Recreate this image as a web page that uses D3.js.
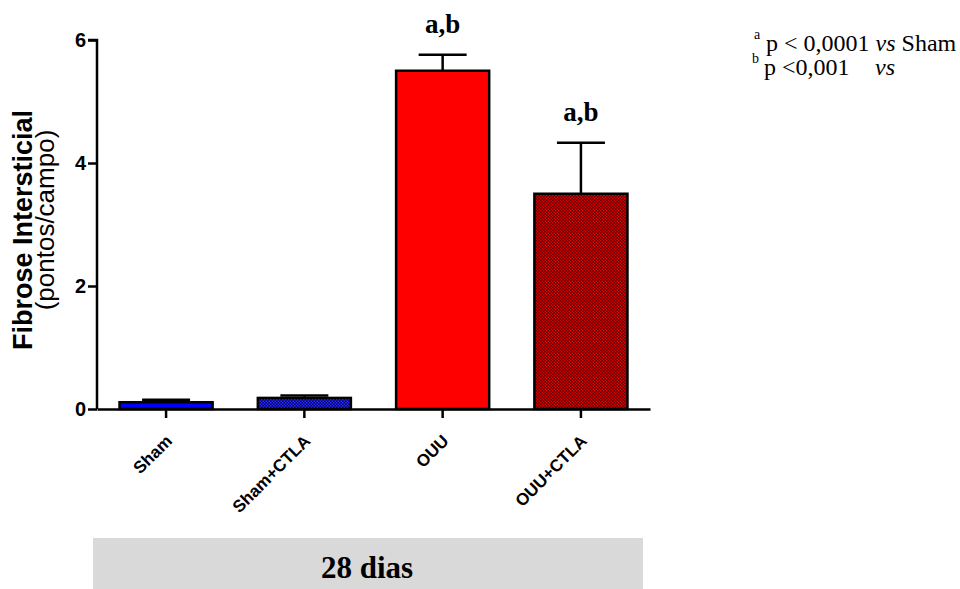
<!DOCTYPE html>
<html>
<head>
<meta charset="utf-8">
<script src="https://cdn.jsdelivr.net/npm/d3@7"></script>
<style>
  body { margin: 0; background: #fff; }
  svg { display: block; }
</style>
</head>
<body>
<svg id="chart" width="960" height="589"></svg>
<script>
// Group labels, means and upper error (mean + SEM)
const groups = ["Sham", "Sham+CTLA", "OUU", "OUU+CTLA"];
const means = [0.11, 0.18, 5.5, 3.5];
const upperErr = [0.15, 0.22, 5.76, 4.33];
const sigLabels = ["", "", "a,b", "a,b"];
const yTicks = [0, 2, 4, 6];

const svg = d3.select("#chart");

// Fill patterns for the CTLA-treated groups
const defs = svg.append("defs");
function checker(id, bg, fg) {
  const p = defs.append("pattern")
    .attr("id", id).attr("patternUnits", "userSpaceOnUse")
    .attr("width", 3).attr("height", 3);
  p.append("rect").attr("width", 3).attr("height", 3).attr("fill", bg);
  p.append("rect").attr("x", 0).attr("y", 0).attr("width", 1.5).attr("height", 1.5).attr("fill", fg);
  p.append("rect").attr("x", 1.5).attr("y", 1.5).attr("width", 1.5).attr("height", 1.5).attr("fill", fg);
}
checker("blueDots", "#000060", "#2a2aff");
checker("redDots", "#5a0000", "#e00000");
const fills = ["#0000ff", "url(#blueDots)", "#ff0000", "url(#redDots)"];

const x0 = 97, y0 = 409, yTop = 40;
const x = d3.scaleBand().domain(groups)
  .range([x0, 650]).paddingInner(0.327).paddingOuter(0.163);
const y = d3.scaleLinear().domain([0, 6]).range([y0, yTop]);

// Bars
svg.append("g").selectAll("rect").data(groups).join("rect")
  .attr("x", d => x(d))
  .attr("y", (d, i) => y(means[i]))
  .attr("width", x.bandwidth())
  .attr("height", (d, i) => y(0) - y(means[i]))
  .attr("fill", (d, i) => fills[i])
  .attr("stroke", "#000").attr("stroke-width", 2.5);

// Error bars (upper only)
const capW = 48;
const eb = svg.append("g").attr("stroke", "#000").attr("stroke-width", 2.5);
groups.forEach((g, i) => {
  const cx = x(g) + x.bandwidth() / 2;
  eb.append("line").attr("x1", cx).attr("x2", cx)
    .attr("y1", y(means[i])).attr("y2", y(upperErr[i]));
  eb.append("line").attr("x1", cx - capW / 2).attr("x2", cx + capW / 2)
    .attr("y1", y(upperErr[i])).attr("y2", y(upperErr[i]));
});

// Significance letters
svg.append("g").selectAll("text").data(groups).join("text")
  .attr("x", d => x(d) + x.bandwidth() / 2)
  .attr("y", (d, i) => y(upperErr[i]) - 22)
  .attr("text-anchor", "middle")
  .attr("font-family", "Liberation Serif, Times New Roman, serif")
  .attr("font-weight", "bold").attr("font-size", 27)
  .text((d, i) => sigLabels[i]);

// Y axis
const yAxis = svg.append("g").attr("transform", `translate(${x0},0)`)
  .call(d3.axisLeft(y).tickValues(yTicks).tickSize(9).tickPadding(2).tickFormat(d3.format("d")));
yAxis.select(".domain").attr("stroke-width", 2.5).attr("d", `M-9,${yTop}H0V${y0}`);
yAxis.selectAll(".tick line").attr("stroke-width", 2.5);
yAxis.selectAll(".tick text")
  .attr("font-family", "Liberation Sans, Arial, sans-serif")
  .attr("font-weight", "bold").attr("font-size", 20).attr("fill", "#000");

// X axis
const xAxis = svg.append("g").attr("transform", `translate(0,${y0})`)
  .call(d3.axisBottom(x).tickSize(9).tickSizeOuter(0));
xAxis.select(".domain").attr("stroke-width", 2.5);
xAxis.selectAll(".tick line").attr("stroke-width", 2.5);
xAxis.selectAll(".tick text")
  .attr("font-family", "Liberation Sans, Arial, sans-serif")
  .attr("font-weight", "bold").attr("font-size", 17).attr("fill", "#000")
  .attr("text-anchor", "end")
  .attr("y", 0).attr("dy", 0)
  .attr("transform", "translate(7,33) rotate(-45)");

// Y axis title
const ytFont = "Liberation Sans, Arial, sans-serif";
svg.append("text")
  .attr("transform", "translate(32,230) rotate(-90)")
  .attr("text-anchor", "middle")
  .attr("font-family", ytFont).attr("font-weight", "bold").attr("font-size", 27)
  .text("Fibrose Intersticial");
svg.append("text")
  .attr("transform", "translate(54,220) rotate(-90)")
  .attr("text-anchor", "middle")
  .attr("font-family", ytFont).attr("font-size", 26)
  .text("(pontos/campo)");

// Footnotes
const fn = svg.append("g")
  .attr("font-family", "Liberation Serif, Times New Roman, serif")
  .attr("fill", "#000");
fn.append("text").attr("x", 754).attr("y", 39).attr("font-size", 14).text("a");
const l1 = fn.append("text").attr("x", 766).attr("y", 51).attr("font-size", 24);
l1.append("tspan").text("p < 0,0001 ");
l1.append("tspan").attr("font-style", "italic").text("vs");
l1.append("tspan").text(" Sham");
fn.append("text").attr("x", 752).attr("y", 63).attr("font-size", 14).text("b");
const l2 = fn.append("text").attr("x", 764).attr("y", 75).attr("font-size", 24);
l2.append("tspan").text("p <0,001");
l2.append("tspan").attr("x", 875).attr("font-style", "italic").text("vs");

// Time-point banner
svg.append("rect").attr("x", 93).attr("y", 538).attr("width", 550).attr("height", 51)
  .attr("fill", "#d9d9d9");
svg.append("text").attr("x", 367).attr("y", 578)
  .attr("text-anchor", "middle")
  .attr("font-family", "Liberation Serif, Times New Roman, serif")
  .attr("font-weight", "bold").attr("font-size", 31)
  .text("28 dias");
</script>
</body>
</html>
